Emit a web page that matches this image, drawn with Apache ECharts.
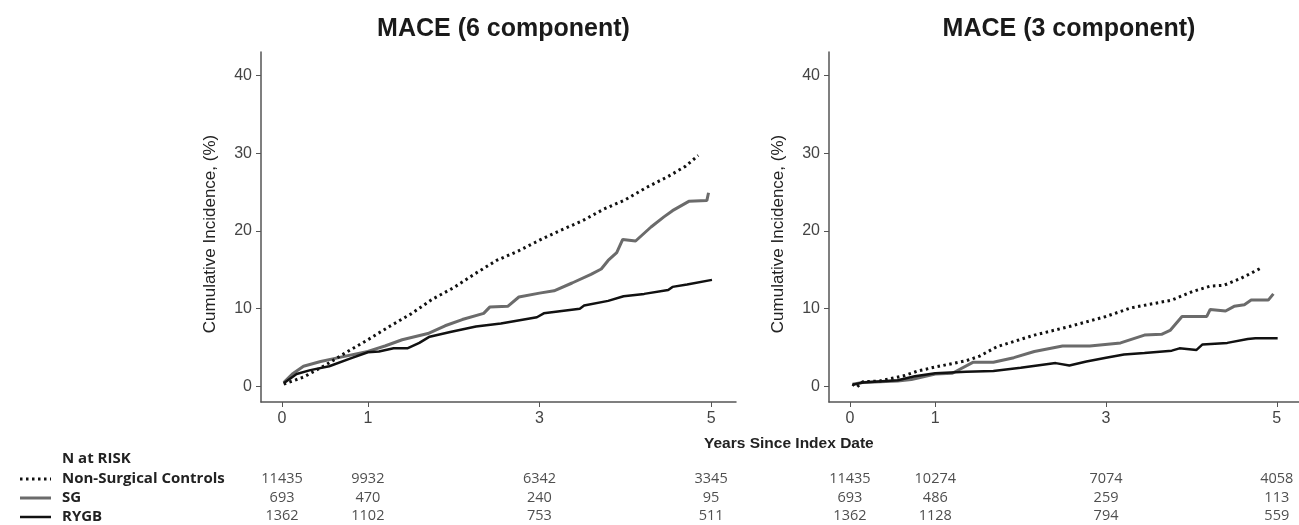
<!DOCTYPE html>
<html>
<head>
<meta charset="utf-8">
<script src="https://cdn.jsdelivr.net/npm/echarts/dist/echarts.min.js"></script>
<style>
  html, body { margin: 0; padding: 0; background: #fff; }
  #chart { width: 1299px; height: 525px; }
</style>
</head>
<body>
<div id="chart"></div>
<script>
// panel titles
const titles = ['MACE (6 component)', 'MACE (3 component)']
const groups = ['Non-Surgical Controls', 'SG', 'RYGB']

// cumulative incidence (%), [years, value]
const nonSurg6 = [[0.02,0.3],[0.25,1.2],[0.5,2.7],[0.75,4.4],[1.0,6.0],[1.25,7.7],[1.5,9.3],[1.75,11.2],[2.0,12.7],[2.25,14.5],[2.5,16.2],[2.75,17.4],[3.0,18.8],[3.25,20.1],[3.5,21.3],[3.75,22.8],[4.0,24.0],[4.25,25.6],[4.5,27.0],[4.7,28.3],[4.85,29.7]]
const sg6 = [[0.02,0.5],[0.12,1.6],[0.25,2.6],[0.45,3.2],[0.7,3.8],[1.0,4.5],[1.2,5.2],[1.4,6.0],[1.7,6.8],[1.9,7.8],[2.1,8.6],[2.35,9.4],[2.42,10.2],[2.63,10.3],[2.76,11.5],[3.0,12.0],[3.17,12.3],[3.38,13.3],[3.6,14.4],[3.72,15.1],[3.8,16.2],[3.9,17.2],[3.97,18.9],[4.12,18.7],[4.3,20.5],[4.45,21.8],[4.55,22.6],[4.74,23.8],[4.95,23.9],[4.97,24.9]]
const rygb6 = [[0.02,0.4],[0.17,1.6],[0.33,2.1],[0.55,2.6],[0.8,3.6],[1.0,4.4],[1.13,4.5],[1.3,4.9],[1.46,4.9],[1.6,5.6],[1.72,6.4],[1.96,7.0],[2.26,7.7],[2.55,8.1],[2.97,8.9],[3.05,9.4],[3.47,10.0],[3.52,10.4],[3.8,11.0],[3.98,11.6],[4.22,11.9],[4.5,12.4],[4.55,12.8],[4.72,13.1],[5.01,13.7]]

const nonSurg3 = [[0.03,0.3],[0.08,-0.1],[0.15,0.6],[0.35,0.7],[0.64,1.4],[0.8,2.0],[1.0,2.5],[1.36,3.3],[1.52,3.9],[1.72,5.1],[2.16,6.6],[2.57,7.7],[3.0,9.0],[3.29,10.1],[3.77,11.1],[4.01,12.2],[4.22,12.9],[4.38,13.0],[4.58,13.9],[4.83,15.3]]
const sg3 = [[0.03,0.3],[0.15,0.5],[0.56,0.7],[0.72,0.9],[1.0,1.6],[1.2,1.7],[1.44,3.1],[1.68,3.1],[1.92,3.7],[2.16,4.5],[2.49,5.2],[2.81,5.2],[3.17,5.6],[3.45,6.6],[3.65,6.7],[3.75,7.2],[3.89,9.0],[4.18,9.0],[4.22,9.9],[4.4,9.7],[4.5,10.3],[4.62,10.5],[4.7,11.1],[4.9,11.1],[4.96,11.9]]
const rygb3 = [[0.03,0.2],[0.15,0.5],[0.56,0.8],[0.76,1.3],[1.0,1.7],[1.36,1.9],[1.68,2.0],[2.0,2.4],[2.41,3.0],[2.57,2.7],[2.77,3.2],[3.0,3.7],[3.21,4.1],[3.45,4.3],[3.77,4.6],[3.86,4.9],[4.06,4.7],[4.13,5.4],[4.42,5.6],[4.66,6.1],[4.75,6.2],[5.01,6.2]]

// axis ticks
const xTicks = [0, 1, 3, 5]
const yTicks = [0, 10, 20, 30, 40]

// N at risk, at the x ticks
const riskYears = [0, 1, 3, 5]
const nonSurgRisk6 = [11435, 9932, 6342, 3345]
const sgRisk6 = [693, 470, 240, 95]
const rygbRisk6 = [1362, 1102, 753, 511]
const nonSurgRisk3 = [11435, 10274, 7074, 4058]
const sgRisk3 = [693, 486, 259, 113]
const rygbRisk3 = [1362, 1128, 794, 559]

const axisColor = '#555'
const labelColor = '#444'
const narrow = '"Liberation Sans Narrow", "Liberation Sans", Arial, sans-serif'
const tableFont = '"Open Sans", "Noto Sans", sans-serif'

const styles = [
  { color: '#111', width: 3, type: [2.5, 3.5], cap: 'butt' },
  { color: '#6b6b6b', width: 3, type: 'solid' },
  { color: '#111', width: 2.5, type: 'solid' }
]

const panels = [
  { left: 261, width: 475, xMax: 5.29, curves: [nonSurg6, sg6, rygb6], risk: [nonSurgRisk6, sgRisk6, rygbRisk6] },
  { left: 829, width: 470, xMax: 5.26, curves: [nonSurg3, sg3, rygb3], risk: [nonSurgRisk3, sgRisk3, rygbRisk3] }
]

const chart = echarts.init(document.getElementById('chart'))

const grid = []
const xAxis = []
const yAxis = []
const series = []
const title = []

panels.forEach((p, i) => {
  // plot grid
  grid.push({ left: p.left, width: p.width, top: 52, height: 350 })
  xAxis.push({
    type: 'value', gridIndex: 2 * i, min: -0.245, max: p.xMax,
    axisLine: { onZero: false, lineStyle: { color: axisColor, width: 1.5 } },
    axisTick: { show: true, length: 5, customValues: xTicks, lineStyle: { color: axisColor } },
    axisLabel: { customValues: xTicks, margin: 9, color: labelColor, fontFamily: narrow, fontSize: 16 },
    splitLine: { show: false }
  })
  yAxis.push({
    type: 'value', gridIndex: 2 * i, min: -2, max: 43,
    name: 'Cumulative Incidence, (%)', nameLocation: 'middle', nameGap: 42,
    nameTextStyle: { color: '#222', fontFamily: narrow, fontSize: 17, padding: [0, 14, 0, 0] },
    axisLine: { show: true, onZero: false, lineStyle: { color: axisColor, width: 1.5 } },
    axisTick: { show: true, length: 5, customValues: yTicks, lineStyle: { color: axisColor } },
    axisLabel: { customValues: yTicks, margin: 9, color: labelColor, fontFamily: narrow, fontSize: 16 },
    splitLine: { show: false }
  })
  // risk table grid, same x scale
  grid.push({ left: p.left, width: p.width, top: 470, height: 57 })
  xAxis.push({ type: 'value', gridIndex: 2 * i + 1, min: -0.245, max: p.xMax, show: false })
  yAxis.push({ type: 'category', gridIndex: 2 * i + 1, data: groups, inverse: true, show: false })

  title.push({
    text: titles[i], left: p.left + p.width / 2, top: 12, textAlign: 'center',
    textStyle: { fontFamily: '"Liberation Sans", Arial, sans-serif', fontWeight: 'bold', fontSize: 25, color: '#1a1a1a' }
  })

  p.curves.forEach((c, k) => {
    series.push({
      type: 'line', name: groups[k], xAxisIndex: 2 * i, yAxisIndex: 2 * i,
      data: c, showSymbol: false, symbol: 'none', z: k === 0 ? 4 : 3,
      lineStyle: styles[k]
    })
  })
  series.push({
    type: 'scatter', xAxisIndex: 2 * i + 1, yAxisIndex: 2 * i + 1,
    symbolSize: 1, itemStyle: { color: 'rgba(0,0,0,0)' },
    data: p.risk.flatMap((row, k) => row.map((n, j) => [riskYears[j], groups[k], n])),
    label: {
      show: true, position: 'inside', formatter: d => d.value[2],
      fontFamily: tableFont, fontSize: 14.5, color: '#222'
    }
  })
})

const rowY = [479, 498, 517]
const graphic = [
  { type: 'text', x: 62, y: 459, style: { text: 'N at RISK', font: 'bold 15px ' + tableFont, fill: '#222', verticalAlign: 'middle' } },
  { type: 'text', x: 704, y: 444, style: { text: 'Years Since Index Date', font: 'bold 15.5px "Liberation Sans", Arial, sans-serif', fill: '#222', verticalAlign: 'middle' } }
]
groups.forEach((g, k) => {
  graphic.push({ type: 'text', x: 62, y: rowY[k], style: { text: g, font: 'bold 15px ' + tableFont, fill: '#222', verticalAlign: 'middle' } })
  graphic.push({
    type: 'line', shape: { x1: 20, y1: rowY[k], x2: 51, y2: rowY[k] },
    style: { stroke: styles[k].color, lineWidth: styles[k].width, lineDash: k === 0 ? [2.5, 3.5] : null }
  })
})

chart.setOption({
  animation: false,
  backgroundColor: '#fff',
  title, grid, xAxis, yAxis, series, graphic
})
</script>
</body>
</html>
